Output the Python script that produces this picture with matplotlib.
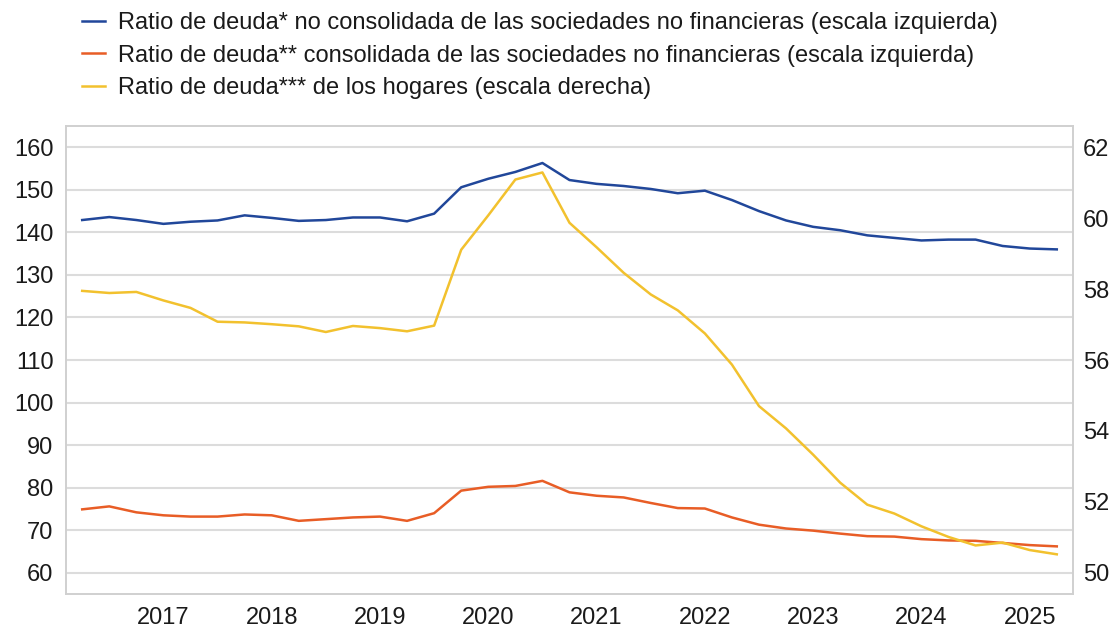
import matplotlib
matplotlib.use("Agg")
import matplotlib.pyplot as plt
import numpy as np

plt.rcParams['font.family'] = ['Liberation Sans', 'DejaVu Sans']

# Quarterly observations, 2016 Q2 .. 2025 Q2
quarters = [f"{y}Q{q}" for y in range(2016, 2026) for q in range(1, 5)][1:38]
year_labels = ["2017", "2018", "2019", "2020", "2021", "2022", "2023", "2024", "2025"]

nfc_unconsolidated = [142.9, 143.6, 142.9, 142.0, 142.5, 142.8, 144.0, 143.4, 142.7, 142.9,
                      143.5, 143.5, 142.6, 144.4, 150.6, 152.6, 154.2, 156.3, 152.3, 151.4,
                      150.9, 150.2, 149.2, 149.8, 147.6, 145.0, 142.8, 141.3, 140.5, 139.3,
                      138.7, 138.1, 138.3, 138.3, 136.8, 136.2, 136.0]
nfc_consolidated = [74.9, 75.6, 74.2, 73.5, 73.2, 73.2, 73.7, 73.5, 72.2, 72.6,
                    73.0, 73.2, 72.2, 74.0, 79.3, 80.2, 80.4, 81.6, 78.9, 78.1,
                    77.7, 76.4, 75.2, 75.1, 73.0, 71.3, 70.4, 69.9, 69.2, 68.6,
                    68.5, 67.9, 67.6, 67.5, 67.0, 66.5, 66.2]
households = [57.95, 57.89, 57.92, 57.68, 57.47, 57.08, 57.06, 57.01, 56.95, 56.79,
              56.96, 56.90, 56.81, 56.97, 59.11, 60.08, 61.09, 61.29, 59.87, 59.18,
              58.46, 57.85, 57.40, 56.75, 55.87, 54.70, 54.07, 53.33, 52.54, 51.92,
              51.67, 51.31, 51.01, 50.77, 50.85, 50.64, 50.52]

labels = ["Ratio de deuda* no consolidada de las sociedades no financieras (escala izquierda)",
          "Ratio de deuda** consolidada de las sociedades no financieras (escala izquierda)",
          "Ratio de deuda*** de los hogares (escala derecha)"]
colors = ["#21479a", "#e85d26", "#f2c12e"]

x = np.arange(len(quarters))
year_pos = [i for i, q in enumerate(quarters) if q.endswith("Q1")]

fig = plt.figure(figsize=(11.16, 6.30), dpi=100)
ax = fig.add_axes([0.0591, 0.0571, 0.9024, 0.7429])
ax2 = ax.twinx()

l1, = ax.plot(x, nfc_unconsolidated, color=colors[0], lw=1.8, label=labels[0])
l2, = ax.plot(x, nfc_consolidated, color=colors[1], lw=1.8, label=labels[1])
l3, = ax2.plot(x, households, color=colors[2], lw=1.8, label=labels[2])

ax.set_xlim(-0.6, 36.6)
ax.set_ylim(55, 165)
ax.set_yticks(range(60, 161, 10))
ax2.set_ylim(49.4, 62.6)
ax2.set_yticks(range(50, 63, 2))
ax.set_xticks(year_pos)
ax.set_xticklabels(year_labels)

ax.grid(axis='y', color='#dcdcdc', lw=1.5)
ax.set_axisbelow(True)
for a in (ax, ax2):
    for s in a.spines.values():
        s.set_color('#d0d0d0')
        s.set_linewidth(1.2)
ax.tick_params(axis='both', length=0, labelsize=17, colors='#1a1a1a')
ax.tick_params(axis='y', pad=9)
ax.tick_params(axis='x', pad=9)
ax2.tick_params(axis='y', length=0, labelsize=17, colors='#1a1a1a', pad=7)

fig.legend(handles=[l1, l2, l3], loc='upper left', bbox_to_anchor=(0.0695, 0.988),
           frameon=False, fontsize=17, handlelength=0.95, handletextpad=0.55,
           labelspacing=0.44, borderpad=0.2, borderaxespad=0, labelcolor='#1a1a1a')

fig.savefig("out.png", dpi=100)
